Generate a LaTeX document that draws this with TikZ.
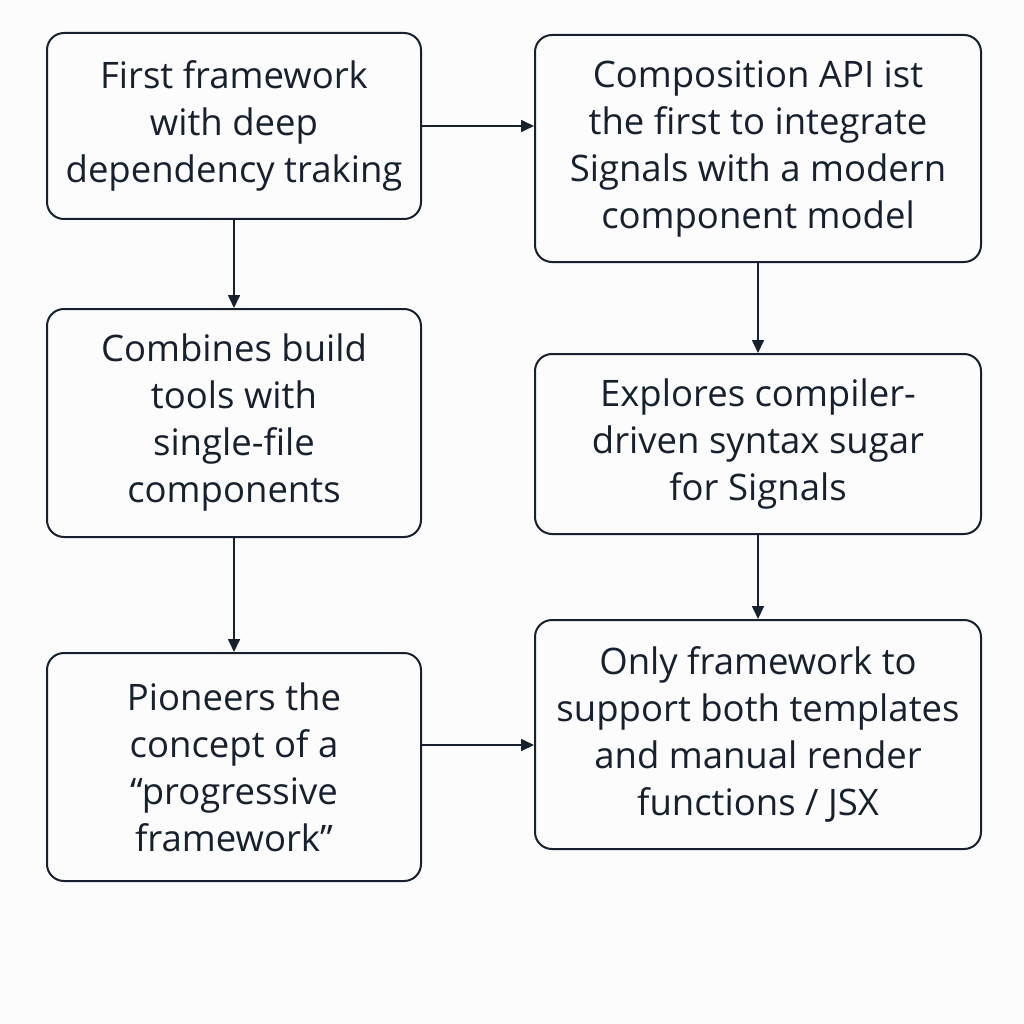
\documentclass[tikz,border=0pt]{standalone}
\usepackage{fontspec}
\setmainfont{Open Sans}
\usetikzlibrary{arrows.meta}
\definecolor{ink}{HTML}{17202E}
\definecolor{bg}{HTML}{FCFCFC}
\begin{document}
\begin{tikzpicture}[x=1pt,y=-1pt,
  box/.style={draw=ink,line width=2pt,rounded corners=17pt,text=ink,align=center,
    inner sep=0pt,font=\fontsize{36.5}{47}\selectfont},
  arr/.style={draw=ink,line width=1.7pt,-{Triangle[length=13pt,width=12pt]}}]
\fill[bg] (0,0) rectangle (1024,1024);
\useasboundingbox (0,0) rectangle (1024,1024);
\node[box,minimum width=374pt,minimum height=186pt] (b1) at (234,126)
  {First framework\\with deep\\dependency traking};
\node[box,minimum width=374pt,minimum height=228pt] (b2) at (234,423)
  {Combines build\\tools with\\single-file\\components};
\node[box,minimum width=374pt,minimum height=228pt] (b3) at (234,767)
  {Pioneers the\\concept of a\\“progressive\\framework”};
\node[box,minimum width=446pt,minimum height=227pt] (b4) at (758,148.5)
  {Composition API ist\\the first to integrate\\Signals with a modern\\component model};
\node[box,minimum width=446pt,minimum height=180pt] (b5) at (758,444)
  {Explores compiler-\\driven syntax sugar\\for Signals};
\node[box,minimum width=446pt,minimum height=229pt] (b6) at (758,734.5)
  {Only framework to\\support both templates\\and manual render\\functions / JSX};
\draw[arr] (b1.south) -- (b2.north);
\draw[arr] (b2.south) -- (b3.north);
\draw[arr] (b4.south) -- (b5.north);
\draw[arr] (b5.south) -- (b6.north);
\draw[arr] (b1.east) -- (b4.west |- b1.east);
\draw[arr] ([yshift=22pt]b3.east) coordinate (a3) -- (a3 -| b6.west);
\end{tikzpicture}
\end{document}
